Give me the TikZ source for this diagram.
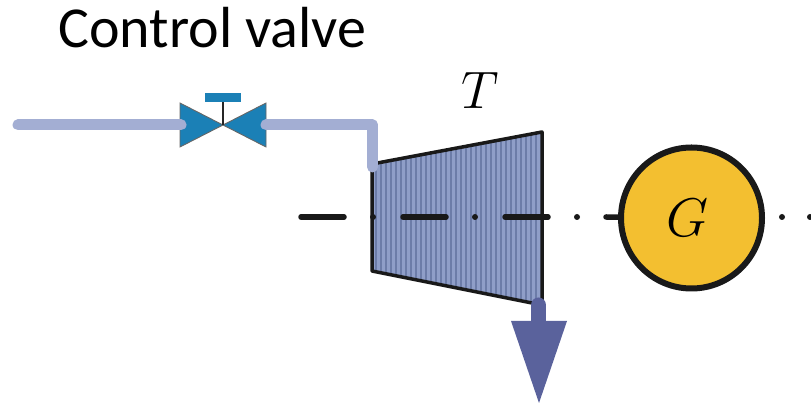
\documentclass[tikz,border=0pt]{standalone}
\usepackage{fix-cm}
\usepackage{fontspec}
\setmainfont{Carlito}
\definecolor{PipeBlue}{RGB}{163,174,211}
\definecolor{ValveBlue}{RGB}{27,128,182}
\definecolor{TurbineBlue}{RGB}{143,158,200}
\definecolor{StripeBlue}{RGB}{108,124,168}
\definecolor{ExhaustBlue}{RGB}{90,98,156}
\definecolor{GenYellow}{RGB}{243,191,48}

\begin{document}
\begin{tikzpicture}[
                        x=0.02cm, y=-0.02cm,
                        pipe/.style={line width=11*0.02cm, PipeBlue, line cap=round, line join=round},
                        valvepart/.style={fill=ValveBlue, draw=black!60, line width=0.5pt},
                        shaft/.style={line width=5.5*0.02cm, black!90, line cap=round},
                        shaftdot/.style={circle, fill=black!90, inner sep=0pt, minimum size=6*0.02cm}
                    ]
                        \useasboundingbox (0,0) rectangle (811,404);
                        % valve
                        \coordinate (vc) at (223,125);
                        \coordinate (pipestart) at (18,125);
                        \coordinate (pipeleft) at (181,125);
                        \coordinate (piperight) at (266,125);
                        \coordinate (pipecorner) at (372.5,125);
                        \coordinate (pipeend) at (372.5,167);
                        \filldraw[valvepart] (180,103) -- (180,147) -- (vc) -- cycle;
                        \filldraw[valvepart] (266,103) -- (266,147) -- (vc) -- cycle;
                        \node[fill=ValveBlue, inner sep=0pt, minimum width=36*0.02cm, minimum height=9*0.02cm] (cap) at (223,97.5) {};
                        \draw[line width=1.2pt, black!85] (vc) -- (cap);
                        % turbine
                        \fill[TurbineBlue] (372,164) -- (542,132) -- (542,305) -- (372,271) -- cycle;
                        \begin{scope}
                            \clip (372,164) -- (542,132) -- (542,305) -- (372,271) -- cycle;
                            \foreach \x in {376,381,...,540}
                                \draw[StripeBlue, line width=2.4*0.02cm] (\x,120) -- (\x,310);
                        \end{scope}
                        \draw[line width=3.5*0.02cm, black!90, line join=round] (372,164) -- (542,132) -- (542,305) -- (372,271) -- cycle;
                        \draw[pipe] (pipestart) -- (pipeleft);
                        \draw[pipe] (piperight) -- (pipecorner) -- (pipeend);
                        \node[font=\fontsize{30}{36}\selectfont] (tlabel) at (480,90) {$T$};
                        \node[font=\fontsize{33}{40}\selectfont, anchor=base west, inner sep=0pt] (title) at (58,48) {Control valve};
                        % generator
                        \node[circle, draw=black!90, fill=GenYellow, line width=6*0.02cm, minimum size=141*0.02cm, inner sep=0pt] (gen) at (691.5,218) {};
                        \node[font=\fontsize{31}{37}\selectfont] (glabel) at (687.5,218) {$G$};
                        % shaft line
                        \coordinate (d1a) at (301,217);
                        \coordinate (d1b) at (344,217);
                        \coordinate (d2a) at (403,217);
                        \coordinate (d2b) at (446,217);
                        \coordinate (d3a) at (505,217);
                        \coordinate (d3b) at (548,217);
                        \coordinate (d4a) at (606,217);
                        \draw[shaft] (d1a) -- (d1b);
                        \draw[shaft] (d2a) -- (d2b);
                        \draw[shaft] (d3a) -- (d3b);
                        \draw[shaft] (d4a) -- (gen);
                        \node[shaftdot] (s1) at (373,217) {};
                        \node[shaftdot] (s2) at (475,217) {};
                        \node[shaftdot] (s3) at (577,217) {};
                        \node[shaftdot] (s4) at (782,217) {};
                        \node[shaftdot] (s5) at (810,217) {};
                        % exhaust
                        \coordinate (exin) at (538.5,305);
                        \coordinate (exout) at (538.5,325);
                        \draw[line width=15*0.02cm, ExhaustBlue, line cap=round] (exin) -- (exout);
                        \fill[ExhaustBlue] (511,321) -- (567,321) -- (539,403) -- cycle;
                    \end{tikzpicture}
\end{document}
